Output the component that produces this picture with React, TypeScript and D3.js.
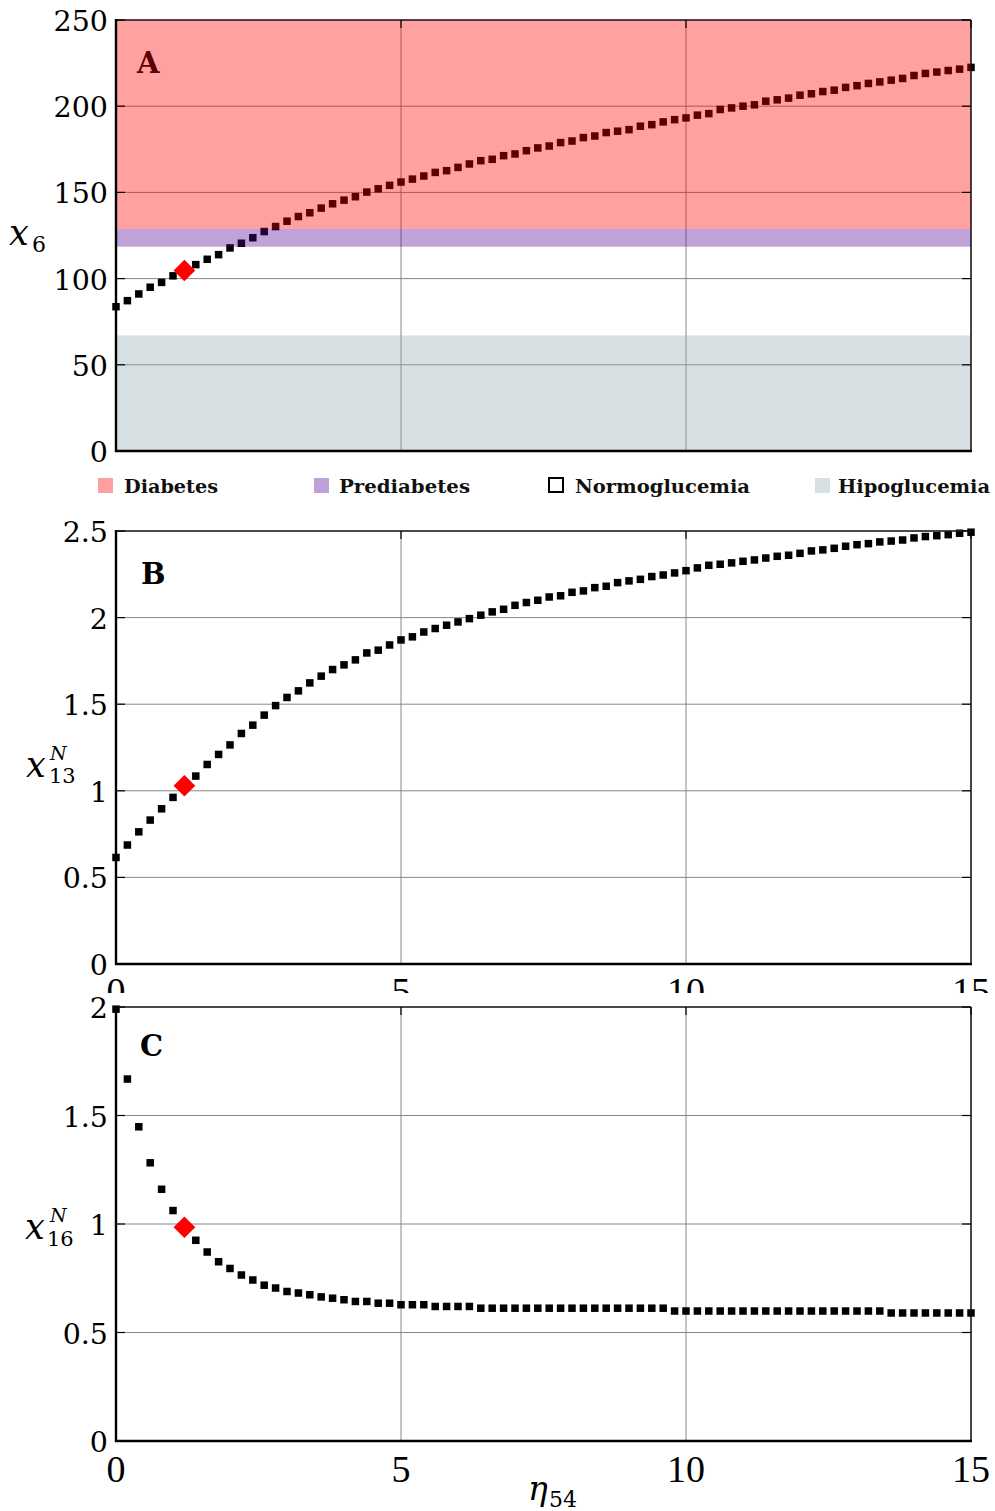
import React from "react";
import * as d3 from "d3";

// ---------- data ----------
const ETA = [0, 0.2, 0.4, 0.6, 0.8, 1, 1.2, 1.4, 1.6, 1.8, 2, 2.2, 2.4, 2.6, 2.8, 3, 3.2, 3.4, 3.6, 3.8,
  4, 4.2, 4.4, 4.6, 4.8, 5, 5.2, 5.4, 5.6, 5.8, 6, 6.2, 6.4, 6.6, 6.8, 7, 7.2, 7.4, 7.6, 7.8,
  8, 8.2, 8.4, 8.6, 8.8, 9, 9.2, 9.4, 9.6, 9.8, 10, 10.2, 10.4, 10.6, 10.8, 11, 11.2, 11.4, 11.6, 11.8,
  12, 12.2, 12.4, 12.6, 12.8, 13, 13.2, 13.4, 13.6, 13.8, 14, 14.2, 14.4, 14.6, 14.8, 15];

const X6 = [83.7, 87.2, 91.1, 95.0, 97.8, 101.6, 104.7, 108.1, 111.2, 113.9, 117.8, 120.5, 123.7, 127.3, 130.2, 133.3,
  136.0, 138.2, 140.9, 143.4, 145.5, 147.5, 150.2, 152.1, 154.1, 156.0, 157.7, 159.5, 161.6, 162.6, 164.5, 166.5,
  168.4, 169.2, 171.3, 172.3, 174.2, 175.8, 176.9, 178.9, 179.8, 181.8, 182.7, 184.7, 185.5, 186.4, 188.4, 189.3, 190.9,
  192.2, 193.2, 194.8, 195.7, 198.1, 199.0, 200.0, 200.8, 202.9, 203.7, 204.7, 206.4, 207.2, 208.5, 209.3, 210.9,
  211.9, 213.2, 214.1, 215.1, 216.1, 217.8, 219.0, 219.8, 220.7, 221.5, 222.5];

const X13N = [0.615, 0.687, 0.763, 0.831, 0.896, 0.962, 1.029, 1.085, 1.152, 1.210, 1.265, 1.331, 1.379, 1.437, 1.492,
  1.539, 1.577, 1.623, 1.662, 1.700, 1.727, 1.756, 1.796, 1.812, 1.842, 1.871, 1.889, 1.917, 1.937, 1.956, 1.975,
  1.994, 2.014, 2.033, 2.048, 2.071, 2.087, 2.100, 2.119,
  2.126, 2.146, 2.154, 2.173, 2.181, 2.202, 2.212, 2.221, 2.237, 2.246, 2.258, 2.271, 2.287, 2.302, 2.308, 2.316,
  2.325, 2.333, 2.344, 2.354, 2.360, 2.371, 2.385, 2.391, 2.400, 2.412, 2.421, 2.427, 2.437, 2.442, 2.448, 2.460,
  2.468, 2.473, 2.479, 2.487, 2.493];

const X16N = [1.99, 1.668, 1.448, 1.282, 1.160, 1.062, 0.985, 0.925, 0.871, 0.826, 0.795, 0.765, 0.742, 0.718, 0.705,
  0.689, 0.682, 0.674, 0.664, 0.658, 0.651, 0.643, 0.643, 0.635, 0.635, 0.628, 0.628, 0.628, 0.620, 0.620, 0.620,
  0.620, 0.612, 0.612, 0.612, 0.612, 0.612, 0.612, 0.612,
  0.612, 0.612, 0.612, 0.612, 0.612, 0.612, 0.612, 0.612, 0.612, 0.612,
  0.599, 0.599, 0.599, 0.599, 0.599, 0.599, 0.599, 0.599, 0.599, 0.599, 0.599, 0.599, 0.599, 0.599, 0.599, 0.599,
  0.599, 0.599, 0.599,
  0.590, 0.590, 0.590, 0.590, 0.590, 0.590, 0.590, 0.590];

const HIGHLIGHT_ETA = 1.2;

const X_TICKS = [0, 5, 10, 15];
const A_TICKS = [0, 50, 100, 150, 200, 250];
const B_TICKS = [0, 0.5, 1, 1.5, 2, 2.5];
const C_TICKS = [0, 0.5, 1, 1.5, 2];

const BAND_NAMES = ["Diabetes", "Prediabetes", "Normoglucemia", "Hipoglucemia"];
const BAND_LO = [128.8, 118.5, 67, 0];
const BAND_HI = [250, 128.8, 118.5, 67];
const BAND_OVERLAY = ["#ff0000", "#550096", null, "#90a9b1"];
const BAND_SWATCH = ["#ffa0a0", "#c0a0d8", "#ffffff", "#d6dfe2"];

// ---------- layout ----------
const X0 = 116, X1 = 971;
const x = d3.scaleLinear().domain([0, 15]).range([X0, X1]);
const yA = d3.scaleLinear().domain([0, 250]).range([451, 20]);
const yB = d3.scaleLinear().domain([0, 2.5]).range([964, 531]);
const yC = d3.scaleLinear().domain([0, 2]).range([1441, 1007]);

const TICK_FONT = "'DejaVu Serif', serif";
const XTICK_FONT = "'Liberation Serif', 'Times New Roman', serif";
const diamond = d3.symbol().type(d3.symbolDiamond2).size(300)();
const SQ = 7.5;

function Grid({ y, ticks }) {
  const [b, t] = y.range();
  return (
    <g>
      {ticks.map((v) => (
        <line key={"h" + v} x1={X0} x2={X1} y1={y(v)} y2={y(v)} stroke="#7a7a7a" strokeWidth={0.9} />
      ))}
      {X_TICKS.map((v) => (
        <line key={"v" + v} x1={x(v)} x2={x(v)} y1={t} y2={b} stroke="#7a7a7a" strokeWidth={0.9} />
      ))}
    </g>
  );
}

function Points({ y, values }) {
  return (
    <g>
      {ETA.map((e, i) =>
        e === HIGHLIGHT_ETA ? null : (
          <rect key={i} x={x(e) - SQ / 2} y={y(values[i]) - SQ / 2} width={SQ} height={SQ} fill="#000" />
        )
      )}
    </g>
  );
}

function Highlight({ y, values }) {
  const i = ETA.indexOf(HIGHLIGHT_ETA);
  return <path d={diamond} transform={`translate(${x(ETA[i])},${y(values[i])})`} fill="#ff0000" />;
}

function Frame({ y, ticks, fmt }) {
  const [b, t] = y.range();
  return (
    <g>
      <line x1={X0} x2={X1} y1={t} y2={t} stroke="#222" strokeWidth={1.6} />
      <line x1={X1} x2={X1} y1={t} y2={b} stroke="#111" strokeWidth={1.4} />
      <line x1={X0} x2={X0} y1={t - 1} y2={b + 1} stroke="#000" strokeWidth={2.4} />
      <line x1={X0 - 1} x2={X1 + 1} y1={b} y2={b} stroke="#000" strokeWidth={2.4} />
      {ticks.map((v) => (
        <g key={v}>
          <line x1={X0} x2={X0 + 9} y1={y(v)} y2={y(v)} stroke="#000" strokeWidth={1.2} />
          <line x1={X1 - 9} x2={X1} y1={y(v)} y2={y(v)} stroke="#000" strokeWidth={1.2} />
          <text x={108} y={y(v) + 11} textAnchor="end" fontFamily={TICK_FONT} fontSize={28.5} fill="#000">
            {fmt(v)}
          </text>
        </g>
      ))}
      {X_TICKS.map((v) => (
        <line key={"t" + v} x1={x(v)} x2={x(v)} y1={t} y2={t + 8} stroke="#000" strokeWidth={1.2} />
      ))}
    </g>
  );
}

function XLabels({ baseline }) {
  return (
    <g>
      {X_TICKS.map((v) => (
        <text key={v} x={x(v)} y={baseline} textAnchor="middle" fontFamily={XTICK_FONT} fontSize={38} fill="#000">
          {String(v)}
        </text>
      ))}
    </g>
  );
}

function PanelLetter({ label, px, py }) {
  return (
    <text x={px} y={py} fontFamily={TICK_FONT} fontWeight="bold" fontSize={29} fill="#000">
      {label}
    </text>
  );
}

const fmtNum = (v) => String(v);

export default function App() {
  const legendX = [98, 314, 549, 815];
  const legendTextX = [124, 339, 575, 838];
  const legendTextW = [94, 131, 175, 152];
  return (
    <svg width={995} height={1511} style={{ position: "absolute", left: 0, top: 0, background: "#fff" }}>
      <rect x={0} y={0} width={995} height={1511} fill="#fff" />

      {/* ---------- Panel A ---------- */}
      <Grid y={yA} ticks={A_TICKS} />
      <PanelLetter label="A" px={137} py={73} />
      <Points y={yA} values={X6} />
      {BAND_NAMES.map((n, i) =>
        BAND_OVERLAY[i] ? (
          <rect
            key={n}
            x={X0}
            width={X1 - X0}
            y={yA(BAND_HI[i])}
            height={yA(BAND_LO[i]) - yA(BAND_HI[i])}
            fill={BAND_OVERLAY[i]}
            fillOpacity={0.37}
          />
        ) : null
      )}
      <Highlight y={yA} values={X6} />
      <Frame y={yA} ticks={A_TICKS} fmt={fmtNum} />
      <text x={9} y={245} fontFamily={TICK_FONT} fontStyle="italic" fontSize={35} fill="#000">x</text>
      <text x={32} y={252} fontFamily={TICK_FONT} fontSize={22} fill="#000">6</text>

      {/* legend */}
      {BAND_NAMES.map((n, i) => (
        <g key={n}>
          <rect
            x={legendX[i]}
            y={478}
            width={i === 2 ? 14 : 15}
            height={i === 2 ? 14 : 15}
            fill={BAND_SWATCH[i]}
            stroke={i === 2 ? "#000" : "none"}
            strokeWidth={2}
          />
          <text
            x={legendTextX[i]}
            y={493}
            fontFamily={TICK_FONT}
            fontWeight="bold"
            fontSize={19}
            textLength={legendTextW[i]}
            lengthAdjust="spacingAndGlyphs"
            fill="#111"
          >
            {n}
          </text>
        </g>
      ))}

      {/* ---------- Panel B ---------- */}
      <Grid y={yB} ticks={B_TICKS} />
      <PanelLetter label="B" px={141} py={584} />
      <Points y={yB} values={X13N} />
      <Highlight y={yB} values={X13N} />
      <Frame y={yB} ticks={B_TICKS} fmt={fmtNum} />
      <XLabels baseline={1004} />
      <text x={26} y={777} fontFamily={TICK_FONT} fontStyle="italic" fontSize={35} fill="#000">x</text>
      <text x={50} y={760} fontFamily={TICK_FONT} fontStyle="italic" fontSize={19} fill="#000">N</text>
      <text x={49} y={783} fontFamily={TICK_FONT} fontSize={21} fill="#000">13</text>

      {/* cover for clipped labels of B */}
      <rect x={0} y={993} width={995} height={518} fill="#fff" />

      {/* ---------- Panel C ---------- */}
      <Grid y={yC} ticks={C_TICKS} />
      <PanelLetter label="C" px={140} py={1056} />
      <Points y={yC} values={X16N} />
      <Highlight y={yC} values={X16N} />
      <Frame y={yC} ticks={C_TICKS} fmt={fmtNum} />
      <XLabels baseline={1482} />
      <text x={25} y={1239} fontFamily={TICK_FONT} fontStyle="italic" fontSize={35} fill="#000">x</text>
      <text x={50} y={1222} fontFamily={TICK_FONT} fontStyle="italic" fontSize={19} fill="#000">N</text>
      <text x={47} y={1246} fontFamily={TICK_FONT} fontSize={21} fill="#000">16</text>

      <text x={528} y={1500} fontFamily={TICK_FONT} fontStyle="italic" fontSize={33} fill="#000">η</text>
      <text x={549} y={1507} fontFamily={TICK_FONT} fontSize={22} fill="#000">54</text>
    </svg>
  );
}
